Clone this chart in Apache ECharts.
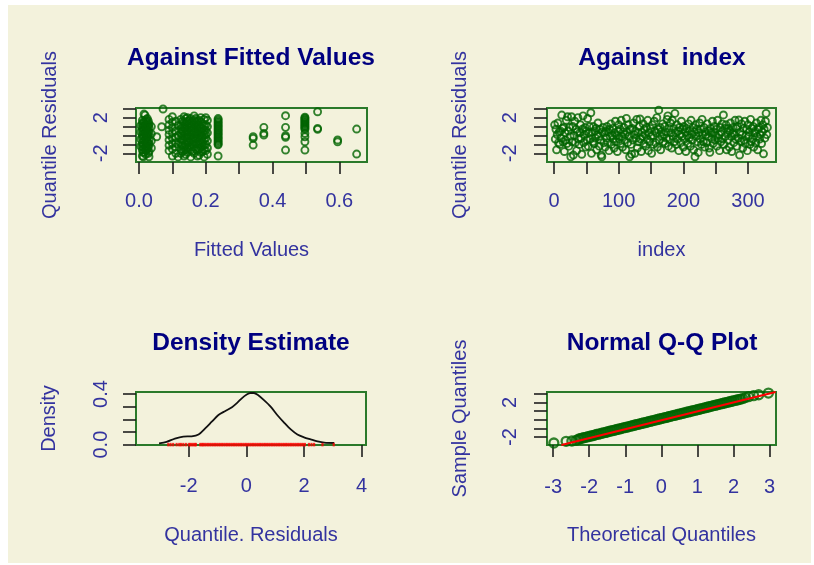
<!DOCTYPE html>
<html><head><meta charset="utf-8">
<script src="https://cdn.jsdelivr.net/npm/echarts@6.0.0/dist/echarts.min.js"></script>
<style>
html,body{margin:0;padding:0;background:#fff;}
#bg{position:absolute;left:8px;top:5px;width:803px;height:558px;background:#F3F2DC;}
#chart{position:absolute;left:0;top:0;width:814px;height:565px;}
</style></head><body>
<div id="bg"></div><div id="chart"></div>
<script>
// ---------- Panel 1: residuals against fitted values ----------
const fitX = [
0.01,0.01,0.01,0.01,0.01,0.01,0.01,0.01,0.01,0.01,
0.015,0.015,0.015,0.015,0.015,0.015,0.015,0.015,0.015,0.015,
0.02,0.02,0.02,0.02,0.02,0.02,0.02,0.02,0.02,0.02,
0.025,0.025,0.025,0.025,0.025,0.025,0.025,0.025,0.025,
0.03,0.03,0.03,0.03,0.03,0.03,0.03,
0.005,0.005,0.005,0.005,
0.037,0.037,0.037,0.037,
0.018,0.013,0.053,0.068,0.072,
0.09,0.09,0.09,0.09,0.09,0.09,0.09,
0.10,0.10,0.10,0.10,0.10,0.10,0.10,0.10,
0.11,0.11,0.11,0.11,0.11,0.11,
0.117,0.117,0.117,0.117,
0.125,0.125,0.125,0.125,0.125,0.125,0.125,0.125,
0.135,0.135,0.135,0.135,0.135,0.135,0.135,0.135,0.135,
0.145,0.145,0.145,0.145,0.145,0.145,0.145,0.145,0.145,
0.155,0.155,0.155,0.155,0.155,0.155,0.155,0.155,0.155,
0.165,0.165,0.165,0.165,0.165,0.165,0.165,0.165,0.165,
0.175,0.175,0.175,0.175,0.175,0.175,0.175,0.175,
0.185,0.185,0.185,0.185,0.185,0.185,0.185,0.185,
0.195,0.195,0.195,0.195,0.195,0.195,0.195,0.195,
0.205,0.205,0.205,0.205,0.205,0.205,
0.237,0.237,0.237,0.237,0.237,0.237,0.237,0.237,0.237,0.237,0.237,0.237,
0.342,0.342,0.342,
0.374,0.374,0.374,
0.439,0.439,0.439,0.439,0.439,
0.497,0.497,0.497,0.497,0.497,0.497,0.497,0.497,0.497,0.497,
0.535,0.535,0.535,
0.595,0.595,
0.652,0.652,
0.13,0.13,0.13,0.13,0.13,0.13,0.13,
0.14,0.14,0.14,0.14,0.14,0.14,0.14,0.14,
0.15,0.15,0.15,0.15,0.15,0.15,0.15,
0.16,0.16,0.16,0.16,0.16,0.16,0.16,
0.17,0.17,0.17,0.17,0.17,0.17,0.17,0.17,
0.18,0.18,0.18,0.18,0.18,0.18,0.18,0.18,
0.19,0.19,0.19,0.19,0.19,0.19,0.19,
0.20,0.20,0.20,0.20,0.20,0.20,0.20,
0.012,0.012,0.012,0.012,0.012,
0.022,0.022,0.022,0.022,0.022,
0.028,0.028,0.028,0.028,0.028,0.028,0.028,
0.237,0.237,0.237,0.237,0.237,0.237,0.237,0.237,0.237,0.237,
0.497,0.497,0.497,0.497,0.497,0.497
];
const fitY = [
-2.3,-1.6,-1.2,-0.8,-0.3,0.1,0.5,0.9,1.3,1.7,
-1.9,-1.4,-1.0,-0.6,-0.1,0.3,0.7,1.1,1.5,2.4,
-2.1,-1.7,-1.3,-0.9,-0.4,0.0,0.4,0.8,1.2,1.6,
-1.5,-1.1,-0.7,-0.2,0.2,0.6,1.0,1.4,1.9,
-2.38,-1.8,-1.0,-0.5,0.3,0.9,1.3,
-1.2,-0.4,0.4,1.1,
-1.4,-0.6,0.2,1.0,
2.28,-2.38,-0.14,0.98,2.97,
1.8,1.2,0.6,0.1,-0.5,-1.1,-1.7,
2.1,1.5,0.9,0.3,-0.3,-0.9,-1.5,-2.3,
1.6,0.5,-0.2,-0.8,-1.3,-2.0,
1.1,0.0,-1.0,-2.4,
-2.0,-1.5,-0.9,-0.4,0.2,0.7,1.2,1.8,
-2.3,-1.7,-1.2,-0.6,-0.1,0.4,0.9,1.5,2.1,
-1.9,-1.4,-0.8,-0.3,0.1,0.6,1.1,1.6,2.0,
-2.4,-1.6,-1.1,-0.5,0.0,0.5,1.0,1.4,1.9,
-2.0,-1.3,-0.7,-0.2,0.3,0.8,1.3,1.7,2.2,
-2.3,-1.7,-1.0,-0.4,0.2,0.7,1.2,1.6,
-1.9,-1.3,-0.8,-0.1,0.4,0.9,1.5,2.0,
-2.4,-1.6,-1.1,-0.5,0.1,0.6,1.1,1.8,
-2.1,-1.4,-0.6,0.3,1.0,1.7,
1.9,1.6,1.3,1.0,0.7,0.4,0.1,-0.2,-0.5,-0.8,-1.05,-2.3,
-0.14,-0.32,-1.07,
0.91,0.24,0.05,
2.22,0.91,-0.03,-0.2,-1.63,
1.95,1.7,1.45,1.2,0.95,0.7,0.24,-0.14,-0.7,-1.63,
2.66,0.8,0.69,
-0.5,-0.7,
0.72,-2.08,
-1.8,-1.1,-0.5,0.0,0.5,1.0,1.6,
-2.1,-1.6,-1.0,-0.2,0.3,0.8,1.3,1.9,
-1.3,-0.7,-0.1,0.4,0.9,1.3,1.7,
-1.8,-1.0,-0.4,0.1,0.6,1.1,1.6,
-1.5,-0.9,-0.3,0.2,0.5,1.0,1.5,1.9,
-2.2,-1.5,-1.0,-0.6,0.0,0.6,1.1,1.7,
-1.8,-1.2,-0.7,-0.2,0.3,0.8,1.3,
-1.7,-1.0,-0.3,0.1,0.6,1.2,2.0,
-1.9,-1.0,-0.1,0.7,1.5,
-1.5,-0.6,0.2,1.0,1.8,
-2.0,-1.3,-0.8,0.0,0.5,1.1,1.6,
1.75,1.45,1.15,0.85,0.55,0.25,-0.05,-0.35,-0.65,-0.95,
2.05,1.82,1.57,1.32,1.07,0.82
];
const fitTicks = [0, 0.1, 0.2, 0.3, 0.4, 0.5, 0.6];
const fitLabels = [0, 0.2, 0.4, 0.6];

// ---------- Panel 2: residuals against index ----------
const resid = [
1.2,-0.4,0.7,-1.6,0.1,1.4,-0.8,0.4,-1.0,0.5,
-0.3,2.29,0.8,-0.7,0.9,-1.8,0.3,-0.5,1.7,-0.9,
2.1,0.5,-1.2,0.9,-0.1,-2.38,2.1,-0.7,1.0,-2.19,
0.0,1.6,-0.8,0.7,-1.7,0.4,2.0,-0.4,-1.0,0.3,
1.2,-0.3,-2.1,0.7,2.2,-0.8,0.1,0.9,-1.3,0.5,
-0.5,1.9,-1.2,0.3,1.0,-0.4,2.55,-2.0,0.4,-0.7,
1.0,-0.9,0.5,-0.3,0.8,-1.6,0.1,1.4,-0.1,-1.2,
0.7,-0.5,-2.19,-2.38,0.4,0.9,-0.8,0.3,-1.3,0.5,
-0.3,1.0,-0.8,0.4,-1.7,0.7,-0.1,1.3,-1.0,0.0,
0.8,-0.4,-1.4,0.3,1.6,-0.7,0.0,-1.8,0.5,1.2,
-0.4,0.7,-0.9,1.7,-0.1,-1.3,0.4,0.9,-0.5,0.1,
-1.6,1.92,0.4,-0.8,1.2,-0.1,-2.38,0.7,-1.0,-2.1,
0.8,-0.5,1.4,0.1,-2.0,0.5,-0.3,1.8,-1.4,0.3,
-0.7,1.0,1.85,-0.4,-1.8,0.4,-0.1,1.3,-0.9,0.7,
0.1,-1.2,0.9,-0.4,1.7,-1.7,0.3,-0.7,0.8,-0.1,
-2.0,1.2,0.0,-1.0,1.6,0.5,-0.8,0.3,2.0,-1.3,
0.7,2.84,-0.5,0.9,-1.6,0.4,-0.1,1.3,-0.7,0.1,
1.0,-0.9,0.4,-0.3,1.8,2.2,-1.2,0.8,-0.4,1.4,
0.3,-1.4,1.7,-0.1,0.8,-0.7,2.48,0.3,-1.0,1.2,
-0.4,0.5,-1.7,0.9,0.1,-0.8,1.6,-0.1,0.7,-1.3,
1.0,-0.4,0.4,-1.8,0.8,0.0,-0.9,1.3,-0.3,0.5,
-1.2,1.7,0.1,-0.5,0.9,-1.6,0.4,-2.38,1.2,-0.1,
0.7,-0.7,-1.9,0.3,1.4,-0.4,0.7,-1.0,1.8,0.1,
-0.7,0.9,-1.3,0.4,0.1,-0.8,1.3,-0.1,0.5,-1.4,
-1.89,0.8,0.3,-0.4,1.6,-0.9,0.4,1.0,-0.5,0.0,
0.7,-1.2,1.7,-0.3,0.1,-1.7,0.9,-0.7,0.4,1.3,
-0.4,2.3,-1.0,0.8,-0.1,1.2,-1.6,0.4,-0.5,0.8,
-1.3,0.5,1.4,-0.1,-1.8,0.3,0.9,-0.8,0.1,1.7,
-0.4,0.8,-1.2,1.0,-0.3,1.73,-2.19,0.4,-0.7,1.3,
0.1,-1.4,0.8,-0.5,1.6,-0.9,0.0,0.7,-1.7,1.2,
-0.1,0.4,-1.0,1.8,-0.7,0.8,-0.4,1.0,-1.3,0.3,
0.5,-0.8,1.4,-0.1,-1.6,0.7,0.9,-0.4,0.1,1.7,
-0.9,0.4,1.2,-2.05,0.7,-0.3,1.6,2.48,0.1,0.9
];
const idxTicks = [0, 50, 100, 150, 200, 250, 300];
const idxLabels = [0, 100, 200, 300];
const residTicks = [-2, -1, 0, 1, 2, 3];
const residLabels = [-2, 2];

// ---------- Panel 3: density estimate ----------
const densX = [-3.03,-2.77,-2.48,-2.19,-1.90,-1.66,-1.43,-1.20,-0.97,-0.73,-0.50,-0.33,-0.15,0.00,0.14,0.26,0.39,0.60,0.84,1.07,1.30,1.54,1.77,2.00,2.23,2.47,2.70,3.05];
const densY = [0.010,0.021,0.048,0.064,0.066,0.080,0.128,0.181,0.234,0.266,0.296,0.328,0.368,0.394,0.408,0.408,0.394,0.354,0.301,0.234,0.176,0.120,0.080,0.058,0.042,0.026,0.016,0.013];
const rugVals = [-2.71,-2.63,-2.54,-2.42,-2.33,-2.27,-2.19,-2.10,-2.00,-1.95,-1.90,-1.84,-1.79,-1.75,-1.60,-1.55,-1.50,
-1.45,-1.39,-1.33,-1.27,-1.21,-1.15,-1.09,-1.03,-0.97,-0.91,-0.85,-0.79,-0.73,-0.67,-0.61,-0.55,-0.49,-0.43,-0.37,-0.31,-0.25,-0.19,-0.13,-0.07,-0.01,
0.05,0.11,0.17,0.23,0.29,0.35,0.41,0.47,0.53,0.59,0.65,0.71,0.77,0.83,0.89,0.95,1.01,1.07,1.13,1.19,1.25,1.31,1.37,1.43,1.49,1.55,1.61,1.67,1.73,1.79,1.85,1.91,1.97,2.03,
2.17,2.26,2.35,2.64,3.03];
const densXTicks = [-2, 0, 2, 4];
const densXLabels = [-2, 0, 2, 4];
const densYTicks = [0, 0.1, 0.2, 0.3, 0.4];
const densYLabels = [0, 0.4];

// ---------- Panel 4: normal Q-Q plot ----------
const qqX = [-2.98,-2.64,-2.48,-2.36,
-2.30,-2.25,-2.20,-2.15,-2.10,-2.05,-2.00,-1.95,-1.90,-1.85,-1.80,-1.75,-1.70,-1.65,-1.60,-1.55,-1.50,-1.45,-1.40,-1.35,-1.30,-1.25,-1.20,-1.15,-1.10,-1.05,
-1.00,-0.95,-0.90,-0.85,-0.80,-0.75,-0.70,-0.65,-0.60,-0.55,-0.50,-0.45,-0.40,-0.35,-0.30,-0.25,-0.20,-0.15,-0.10,-0.05,
0.00,0.05,0.10,0.15,0.20,0.25,0.30,0.35,0.40,0.45,0.50,0.55,0.60,0.65,0.70,0.75,0.80,0.85,0.90,0.95,
1.00,1.05,1.10,1.15,1.20,1.25,1.30,1.35,1.40,1.45,1.50,1.55,1.60,1.65,1.70,1.75,1.80,1.85,1.90,1.95,2.00,2.05,2.10,2.15,2.20,
2.26,2.33,2.42,2.56,2.70,2.97];
const qqY = [-2.69,-2.50,-2.46,-2.38,
-2.25,-2.20,-2.12,-2.08,-2.03,-1.99,-1.92,-1.88,-1.84,-1.77,-1.71,-1.67,-1.63,-1.56,-1.51,-1.47,-1.42,-1.35,-1.30,-1.27,-1.21,-1.15,-1.10,-1.06,-1.00,-0.94,
-0.90,-0.86,-0.79,-0.74,-0.70,-0.64,-0.58,-0.54,-0.49,-0.43,-0.38,-0.34,-0.28,-0.22,-0.18,-0.13,-0.07,-0.03,0.03,0.08,
0.13,0.19,0.23,0.28,0.34,0.39,0.45,0.49,0.54,0.60,0.64,0.70,0.75,0.80,0.86,0.90,0.95,1.01,1.06,1.10,
1.16,1.21,1.26,1.32,1.36,1.42,1.47,1.52,1.57,1.63,1.67,1.72,1.78,1.83,1.87,1.93,1.98,2.03,2.08,2.13,2.18,2.23,2.28,2.33,2.38,
2.44,2.55,2.66,2.77,2.88,3.08];
const qqLineX = [-2.77, 3.17];
const qqLineY = [-2.92, 3.20];
const qqXTicks = [-3, -2, -1, 0, 1, 2, 3];
const qqXLabels = [-3, -2, -1, 0, 1, 2, 3];
const qqYTicks = [-2, -1, 0, 1, 2, 3];
const qqYLabels = [-2, 2];

// ---------- chart ----------
const FONT = 'Liberation Sans';
const LAB = '#33339F';
const TICK = '#1e1e1e';
const BOX = '#2A7A2A';
const PT = '#006400';

function xAx(gi, min, max, ticks, labels, fmt, name, margin, nameGap) {
  return {
    type: 'value', gridIndex: gi, min: min, max: max,
    axisLine: {show: false, onZero: false}, splitLine: {show: false},
    axisTick: {show: true, customValues: ticks, length: 12, lineStyle: {color: TICK, width: 1.6}},
    axisLabel: {customValues: labels, formatter: fmt, margin: margin, color: LAB, fontSize: 20, fontFamily: FONT},
    name: name, nameLocation: 'middle', nameGap: nameGap,
    nameTextStyle: {color: LAB, fontSize: 20, fontFamily: FONT}
  };
}
function yAx(gi, min, max, ticks, labels, fmt, name, margin, nameGap) {
  const a = xAx(gi, min, max, ticks, labels, fmt, name, margin, nameGap);
  a.axisLabel.rotate = 90;
  a.axisTick.length = 13;
  return a;
}
const f1 = v => v.toFixed(1);
const f0 = v => String(v);

function grid(l, t, w, h) {
  return {left: l, top: t, width: w, height: h, show: true, borderColor: BOX, borderWidth: 2,
          backgroundColor: 'transparent', containLabel: false, outerBoundsMode: 'none'};
}
function title(text, x, y) {
  return {text: text, left: x, top: y, textAlign: 'center', padding: 0,
          textStyle: {color: '#000080', fontSize: 24.5, fontWeight: 'bold', fontFamily: FONT}};
}
const ptStyle = {color: 'rgba(0,0,0,0)', borderColor: PT, borderWidth: 1.9};
const qqStyle = {color: 'rgba(0,0,0,0)', borderColor: PT, borderWidth: 2.3};

const chart = echarts.init(document.getElementById('chart'), null, {renderer: 'canvas'});
chart.setOption({
  animation: false,
  backgroundColor: 'transparent',
  title: [
    title('Against Fitted Values', 251, 46),
    title('Against  index', 662, 46),
    title('Density Estimate', 251, 331),
    title('Normal Q-Q Plot', 662, 331)
  ],
  grid: [grid(136, 108, 231, 54), grid(547, 108, 229, 54), grid(136, 392, 230, 53), grid(547, 392, 229, 53)],
  xAxis: [
    xAx(0, -0.009, 0.683, fitTicks, fitLabels, f1, 'Fitted Values', 29, 78),
    xAx(1, -10.8, 343.3, idxTicks, idxLabels, f0, 'index', 29, 78),
    xAx(2, -3.83, 4.15, densXTicks, densXLabels, f0, 'Quantile. Residuals', 31, 80),
    xAx(3, -3.17, 3.18, qqXTicks, qqXLabels, f0, 'Theoretical Quantiles', 32, 80)
  ],
  yAxis: [
    yAx(0, -2.97, 3.08, residTicks, residLabels, f0, 'Quantile Residuals', 25, 76),
    yAx(1, -2.97, 3.08, residTicks, residLabels, f0, 'Quantile Residuals', 27, 77),
    yAx(2, -0.003, 0.416, densYTicks, densYLabels, f1, 'Density', 25, 77),
    yAx(3, -2.92, 3.20, qqYTicks, qqYLabels, f0, 'Sample Quantiles', 27, 77)
  ],
  series: [
    {type: 'scatter', xAxisIndex: 0, yAxisIndex: 0, silent: true, symbol: 'circle', symbolSize: 7,
     itemStyle: ptStyle, data: fitX.map((x, i) => [x, fitY[i]])},
    {type: 'scatter', xAxisIndex: 1, yAxisIndex: 1, silent: true, symbol: 'circle', symbolSize: 7,
     itemStyle: ptStyle, data: resid.map((v, i) => [i + 1, v])},
    {type: 'line', xAxisIndex: 2, yAxisIndex: 2, silent: true, showSymbol: false, smooth: 0.3,
     lineStyle: {color: '#111', width: 1.8}, data: densX.map((x, i) => [x, densY[i]])},
    {type: 'scatter', xAxisIndex: 2, yAxisIndex: 2, silent: true, symbol: 'rect', symbolSize: [2.2, 3.5], z: 5,
     itemStyle: {color: '#FF0000'}, data: rugVals.map(v => [v, 0])},
    {type: 'scatter', xAxisIndex: 3, yAxisIndex: 3, silent: true, symbol: 'circle', symbolSize: 9,
     itemStyle: qqStyle, data: qqX.map((x, i) => [x, qqY[i]])},
    {type: 'line', xAxisIndex: 3, yAxisIndex: 3, silent: true, showSymbol: false, z: 5,
     lineStyle: {color: '#FF0000', width: 2}, data: qqLineX.map((x, i) => [x, qqLineY[i]])}
  ]
});
</script></body></html>
